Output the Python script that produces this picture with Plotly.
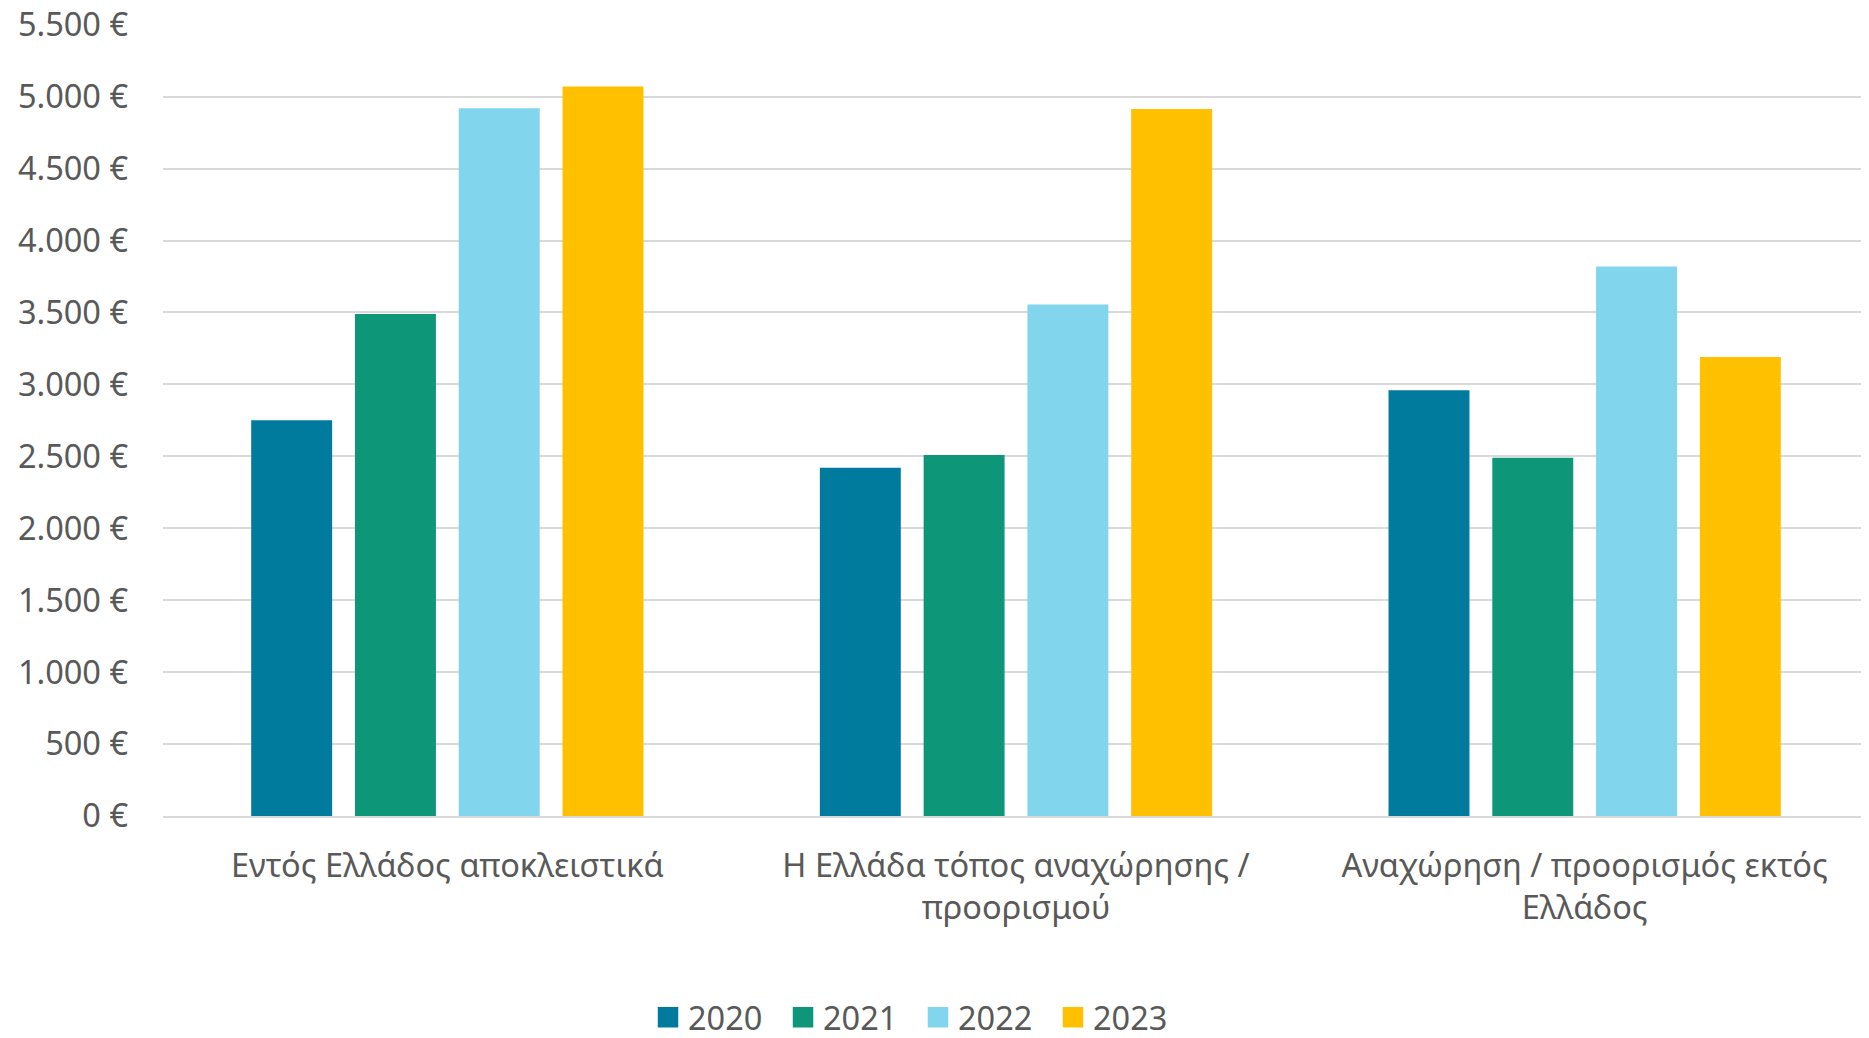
import plotly.graph_objects as go

categories = ["Εντός Ελλάδος αποκλειστικά",
              "Η Ελλάδα τόπος αναχώρησης /<br>προορισμού",
              "Αναχώρηση / προορισμός εκτός<br>Ελλάδος"]
years = ["2020", "2021", "2022", "2023"]
v2020 = [2750, 2420, 2960]
v2021 = [3490, 2510, 2490]
v2022 = [4920, 3555, 3820]
v2023 = [5070, 4915, 3190]
colors = ["#007b9e", "#0e9678", "#81d5ec", "#ffc000"]

series = [v2020, v2021, v2022, v2023]
txt = "#595959"

fig = go.Figure()
for name, vals, col in zip(years, series, colors):
    fig.add_trace(go.Bar(x=categories, y=vals, name=name, marker_color=col,
                         marker_line_width=0, showlegend=False))
    # square swatch for the legend
    fig.add_trace(go.Scatter(x=[None], y=[None], mode="markers", name=name,
                             marker=dict(symbol="square", size=16, color=col,
                                         line=dict(color=col, width=4.5))))

# page body has an 8px margin; figure is a little taller than the window so
# the legend does not push the bottom margin
fig.update_layout(
    width=1869, height=1060,
    margin=dict(l=155, r=8, t=16, b=252),
    paper_bgcolor="white", plot_bgcolor="white",
    font=dict(family="Noto Sans, DejaVu Sans, sans-serif", size=32.5, color=txt),
    barmode="group", bargap=0.27, bargroupgap=0.22,
    separators=",.",
    legend=dict(orientation="h", x=0.2843, xanchor="left", y=-0.2545, yanchor="middle",
                entrywidth=90, entrywidthmode="pixels",
                font=dict(size=32.5, color=txt)),
)
# a hair above 5500 so the top gridline is not dropped at the edge
fig.update_yaxes(range=[0, 5505], tick0=0, dtick=500, tickformat=",.0f", ticksuffix=" €",
                 showgrid=True, gridcolor="#d9d9d9", gridwidth=1.5,
                 zeroline=False, showline=False, ticklabelstandoff=34,
                 ticklabeloverflow="allow", automargin=False)
fig.update_xaxes(showline=True, linecolor="#d9d9d9", linewidth=1.5,
                 ticks="", ticklabelstandoff=20, automargin=False)

fig.write_html("out.html", post_script="document.body.style.overflow='hidden';")
